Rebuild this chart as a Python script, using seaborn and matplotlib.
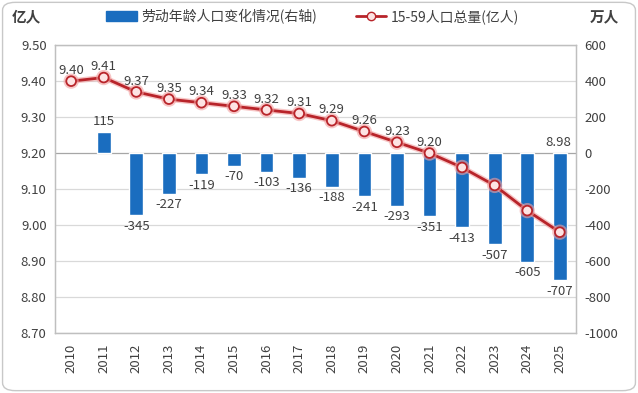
import numpy as np
import pandas as pd
import matplotlib
matplotlib.use("Agg")
import matplotlib.pyplot as plt
import matplotlib.patheffects as pe
from matplotlib.patches import Patch, FancyBboxPatch
from matplotlib.lines import Line2D
import seaborn as sns

# data
years = [str(y) for y in range(2010, 2026)]
labor_change = [np.nan, 115, -345, -227, -119, -70, -103, -136, -188, -241,
                -293, -351, -413, -507, -605, -707]          # 万人, right axis
pop_15_59 = [9.40, 9.41, 9.37, 9.35, 9.34, 9.33, 9.32, 9.31, 9.29, 9.26,
             9.23, 9.20, 9.16, 9.11, 9.04, 8.98]             # 亿人, left axis
line_labels = ["9.40", "9.41", "9.37", "9.35", "9.34", "9.33", "9.32", "9.31",
               "9.29", "9.26", "9.23", "9.20", "", "", "", "8.98"]
left_ticks = [8.70, 8.80, 8.90, 9.00, 9.10, 9.20, 9.30, 9.40, 9.50]
right_ticks = [-1000, -800, -600, -400, -200, 0, 200, 400, 600]

sns.set_theme(style="white")
plt.rcParams["font.family"] = ["Noto Sans CJK SC", "DejaVu Sans"]

BLUE = "#1a6dbf"
RED = "#b8242a"
TXT = "#404040"

df = pd.DataFrame({"year": years, "change": labor_change,
                   "pop": pop_15_59, "idx": np.arange(len(years))})

fig = plt.figure(figsize=(6.38, 3.93), dpi=100)
ax1 = fig.add_axes([0.086, 0.153, 0.817, 0.732])
ax2 = ax1.twinx()

# bars on the right axis
sns.barplot(data=df, x="idx", y="change", color=BLUE, width=0.42,
            errorbar=None, ax=ax2, saturation=1)
ax2.set_ylim(-1000, 600)
ax2.set_yticks(right_ticks)
ax2.set_yticklabels([str(t) for t in right_ticks])
for i, v in enumerate(labor_change):
    if np.isnan(v):
        continue
    if v > 0:
        ax2.text(i, v + 25, f"{v:.0f}", ha="center", va="bottom", fontsize=9.5, color=TXT)
    else:
        ax2.text(i, v - 25, f"{v:.0f}", ha="center", va="top", fontsize=9.5, color=TXT)

# line on the left axis, drawn above the bars
ax1.set_zorder(ax2.get_zorder() + 1)
ax1.patch.set_visible(False)
sns.lineplot(data=df, x="idx", y="pop", ax=ax1, color=RED, linewidth=2,
             marker="o", markersize=7, markerfacecolor="#fde3e3",
             markeredgecolor=RED, markeredgewidth=1.3,
             path_effects=[pe.Stroke(linewidth=4, foreground="#f3a0a0", alpha=0.6), pe.Normal()])
for i, (v, lab) in enumerate(zip(pop_15_59, line_labels)):
    if not lab:
        continue
    if i == len(years) - 1:
        # last label sits above the bar, near the zero line
        ax1.text(i - 0.05, 9.212, lab, ha="center", va="bottom", fontsize=9.5, color=TXT)
    else:
        ax1.text(i, v + 0.012, lab, ha="center", va="bottom", fontsize=9.5, color=TXT)
ax1.set_ylim(8.70, 9.50)
ax1.set_yticks(left_ticks)
ax1.set_yticklabels([f"{t:.2f}" for t in left_ticks])
ax1.set_xlim(-0.5, len(years) - 0.5)
ax1.set_xticks(range(len(years)))
ax1.set_xticklabels(years, rotation=90)
ax2.set_xlim(-0.5, len(years) - 0.5)
ax1.set_xlabel("")
ax1.set_ylabel("")
ax2.set_xlabel("")
ax2.set_ylabel("")

# grid lines
for t in right_ticks:
    ax2.axhline(t, color="#d9d9d9" if t != 0 else "#a6a6a6", linewidth=0.9, zorder=0)

for a in (ax1, ax2):
    a.tick_params(axis="both", length=0, labelsize=9.5, labelcolor=TXT, pad=6)
    for s in a.spines.values():
        s.set_color("#bfbfbf")
        s.set_linewidth(0.9)
ax1.tick_params(axis="x", pad=8)

# unit labels
fig.text(0.018, 0.958, "亿人", fontsize=10.5, fontweight="bold", color=TXT, va="center")
fig.text(0.925, 0.958, "万人", fontsize=10.5, fontweight="bold", color=TXT, va="center")

# legend
handles = [Patch(facecolor=BLUE, edgecolor=BLUE),
           Line2D([0], [0], color=RED, linewidth=2, marker="o", markersize=6,
                  markerfacecolor="#fde3e3", markeredgecolor=RED)]
fig.legend(handles, ["劳动年龄人口变化情况(右轴)", "15-59人口总量(亿人)"],
           loc="center", bbox_to_anchor=(0.49, 0.958), ncol=2, frameon=False,
           fontsize=10, labelcolor=TXT, handlelength=2.2, handletextpad=0.3,
           columnspacing=2.8)

# rounded outer border
fig.patches.append(FancyBboxPatch((0.004, 0.006), 0.992, 0.988,
                                  boxstyle="round,pad=0,rounding_size=0.02",
                                  transform=fig.transFigure, fill=False,
                                  edgecolor="#c8c8c8", linewidth=1))

fig.savefig("out.png", dpi=100)
